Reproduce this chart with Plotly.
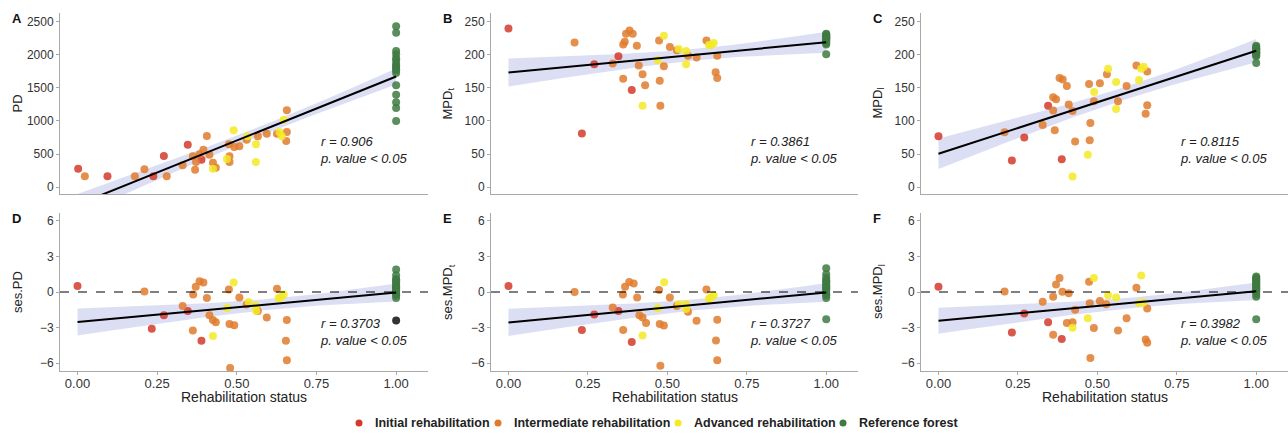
import numpy as np
import plotly.graph_objects as go

W, H = 1288, 433

# ---------------- data ----------------
# Panel A : PD
A_red_x = [0.002, 0.094, 0.238, 0.271, 0.346, 0.389]
A_red_y = [278, 162, 162, 470, 641, 414]
A_org_x = [0.023, 0.18, 0.21, 0.28, 0.33, 0.362, 0.369, 0.372, 0.383, 0.395, 0.406, 0.414, 0.425,
           0.434, 0.475, 0.477, 0.477, 0.492, 0.508, 0.531, 0.566, 0.594, 0.626, 0.657, 0.657, 0.655]
A_org_y = [162, 162, 268, 162, 328, 465, 263, 379, 495, 566, 773, 490, 369,
           293, 646, 465, 379, 606, 616, 717, 768, 808, 808, 1161, 833, 697]
A_yel_x = [0.425, 0.469, 0.49, 0.533, 0.56, 0.56, 0.634, 0.641, 0.647]
A_yel_y = [278, 424, 858, 768, 646, 379, 833, 768, 1020]
A_grn_y = [2434, 2338, 2060, 2010, 1950, 1919, 1869, 1840, 1818, 1790, 1768, 1727, 1540, 1399, 1283, 1197, 1000]

# Panel B : MPDt
B_red_x = [0.0, 0.231, 0.27, 0.346, 0.388]
B_red_y = [240, 81, 186, 198, 147]
B_org_x = [0.208, 0.328, 0.361, 0.361, 0.366, 0.37, 0.381, 0.391, 0.404, 0.41, 0.422, 0.43,
           0.474, 0.476, 0.478, 0.489, 0.508, 0.53, 0.565, 0.592, 0.623, 0.657, 0.652, 0.657]
B_org_y = [219, 187, 164, 216, 220, 232, 237, 232, 214, 184, 171, 154,
           222, 161, 123, 183, 212, 207, 199, 196, 222, 199, 174, 165]
B_yel_x = [0.489, 0.422, 0.47, 0.536, 0.559, 0.559, 0.631, 0.637, 0.646]
B_yel_y = [229, 123, 192, 209, 206, 186, 215, 215, 218]
B_grn_y = [232, 231, 230, 228, 227, 226, 225, 224, 222, 220, 218, 216, 201]

# Panel C : MPDl
C_red_x = [0.0, 0.231, 0.27, 0.345, 0.388]
C_red_y = [77, 40, 75, 123, 42]
C_org_x = [0.208, 0.328, 0.361, 0.361, 0.37, 0.366, 0.381, 0.391, 0.404, 0.41, 0.422, 0.43,
           0.474, 0.476, 0.478, 0.489, 0.508, 0.53, 0.565, 0.592, 0.623, 0.657, 0.652, 0.657]
C_org_y = [83, 94, 136, 116, 133, 86, 165, 163, 153, 125, 115, 69,
           156, 71, 97, 130, 157, 171, 130, 153, 184, 175, 111, 124]
C_yel_x = [0.49, 0.422, 0.47, 0.534, 0.559, 0.559, 0.631, 0.638, 0.646]
C_yel_y = [144, 16, 49, 179, 159, 118, 162, 179, 182]
C_grn_y = [214, 212, 210, 209, 208, 206, 204, 203, 202, 200, 198, 188]

# Panel D : ses.PD
D_red_x = [0.0, 0.233, 0.271, 0.346, 0.389]
D_red_y = [0.5, -3.1, -1.95, -1.6, -4.1]
D_org_x = [0.21, 0.33, 0.362, 0.363, 0.371, 0.383, 0.395, 0.406, 0.414, 0.425, 0.434, 0.479,
           0.475, 0.477, 0.492, 0.508, 0.531, 0.566, 0.594, 0.626, 0.657, 0.654, 0.657]
D_org_y = [0.05, -1.17, -3.25, -0.2, 0.45, 0.9, 0.8, -0.5, -1.95, -2.35, -2.55, -6.4,
           0.2, -2.7, -2.8, -0.47, -1.05, -1.6, -2.15, 0.28, -2.35, -4.1, -5.75]
D_yel_x = [0.49, 0.425, 0.47, 0.537, 0.559, 0.561, 0.631, 0.638, 0.647]
D_yel_y = [0.8, -3.7, -1.35, -0.85, -1.15, -1.6, -0.5, -0.45, -0.2]
D_grn_y = [1.9, 1.4, 1.1, 1.0, 0.9, 0.75, 0.6, 0.5, 0.4, 0.3, 0.2, 0.1, 0.0, -0.2, -0.3, -0.5, -2.4]

# Panel E : ses.MPDt
E_red_x = [0.0, 0.231, 0.27, 0.346, 0.388]
E_red_y = [0.5, -3.2, -1.9, -1.6, -4.2]
E_org_x = [0.208, 0.328, 0.361, 0.36, 0.367, 0.38, 0.394, 0.405, 0.412, 0.422, 0.433, 0.478,
           0.474, 0.476, 0.489, 0.508, 0.53, 0.565, 0.592, 0.623, 0.657, 0.653, 0.657]
E_org_y = [0.0, -1.3, -3.2, -0.2, 0.45, 0.85, 0.72, -0.47, -1.95, -2.15, -2.6, -6.2,
           0.17, -2.7, -2.83, -0.47, -1.17, -1.67, -2.42, 0.22, -2.33, -4.08, -5.75]
E_yel_x = [0.49, 0.422, 0.47, 0.536, 0.559, 0.559, 0.631, 0.637, 0.646]
E_yel_y = [0.83, -3.67, -1.36, -1.03, -1.03, -1.44, -0.56, -0.47, -0.28]
E_grn_y = [2.0, 1.5, 1.2, 1.0, 0.9, 0.8, 0.6, 0.5, 0.4, 0.3, 0.2, 0.0, -0.2, -0.3, -0.5, -2.3]

# Panel F : ses.MPDl
F_red_x = [0.0, 0.231, 0.27, 0.345, 0.388]
F_red_y = [0.45, -3.4, -1.8, -2.55, -3.95]
F_org_x = [0.208, 0.328, 0.361, 0.361, 0.37, 0.381, 0.39, 0.41, 0.422, 0.43, 0.404, 0.474,
           0.476, 0.478, 0.489, 0.508, 0.528, 0.565, 0.592, 0.623, 0.657, 0.652, 0.657]
F_org_y = [0.05, -0.83, -3.6, -0.4, 0.64, 1.17, 0.03, -0.1, -2.55, -1.5, -2.6, 0.86,
           -0.94, -5.55, -3.03, -0.75, -1.03, -3.25, -2.2, 0.36, -1.39, -4.0, -4.28]
F_yel_x = [0.489, 0.422, 0.47, 0.534, 0.559, 0.631, 0.638, 0.644]
F_yel_y = [1.17, -3.0, -2.22, -0.28, -0.47, -0.94, 1.39, -0.9]
F_grn_y = [1.3, 1.2, 1.1, 1.0, 0.9, 0.8, 0.7, 0.6, 0.5, 0.4, 0.3, 0.2, 0.1, 0.0, -0.2, -0.4, -2.3]

panel_letters = ["A", "B", "C", "D", "E", "F"]
y_titles = ["PD", "MPD<sub>t</sub>", "MPD<sub>l</sub>", "ses.PD", "ses.MPD<sub>t</sub>", "ses.MPD<sub>l</sub>"]
x_title = "Rehabilitation status"
r_values = ["0.906", "0.3861", "0.8115", "0.3703", "0.3727", "0.3982"]
x_ticks = [0, 0.25, 0.5, 0.75, 1.0]
x_tick_labels = ["0.00", "0.25", "0.50", "0.75", "1.00"]
groups = ["Initial rehabilitation", "Intermediate rehabilitation", "Advanced rehabilitation", "Reference forest"]
colors = ["#D33A2C", "#E07B2E", "#F3EA23", "#3E7A42"]

panels = [
    (A_red_x, A_red_y, A_org_x, A_org_y, A_yel_x, A_yel_y, A_grn_y),
    (B_red_x, B_red_y, B_org_x, B_org_y, B_yel_x, B_yel_y, B_grn_y),
    (C_red_x, C_red_y, C_org_x, C_org_y, C_yel_x, C_yel_y, C_grn_y),
    (D_red_x, D_red_y, D_org_x, D_org_y, D_yel_x, D_yel_y, D_grn_y),
    (E_red_x, E_red_y, E_org_x, E_org_y, E_yel_x, E_yel_y, E_grn_y),
    (F_red_x, F_red_y, F_org_x, F_org_y, F_yel_x, F_yel_y, F_grn_y),
]

# ---------------- layout geometry (px) ----------------
cols_px = [(60, 428), (491, 858), (921, 1288)]
rows_px = [(13, 194), (213, 371)]
yranges = [[-106, 2636], [-10.6, 263.6], [-10.6, 263.6], [-6.65, 6.65], [-6.65, 6.65], [-6.65, 6.65]]
ytickvals = [[0, 500, 1000, 1500, 2000, 2500], [0, 50, 100, 150, 200, 250], [0, 50, 100, 150, 200, 250],
             [-6, -3, 0, 3, 6], [-6, -3, 0, 3, 6], [-6, -3, 0, 3, 6]]
xrange_ = [-0.055, 1.10]

FONT = "Liberation Sans, Arial, sans-serif"
fig = go.Figure()
layout = dict(width=W, height=H, margin=dict(l=0, r=0, t=0, b=0),
              plot_bgcolor="white", paper_bgcolor="white", showlegend=False,
              font=dict(family=FONT, color="#222"))
annotations = []
shapes = []

for i, (rx, ry, ox, oy, yx, yy, gy) in enumerate(panels):
    row, col = divmod(i, 3)
    ax = "" if i == 0 else str(i + 1)
    xa, ya = "x" + ax, "y" + ax
    c0, c1 = cols_px[col]
    r0, r1 = rows_px[row]
    xdom = [c0 / W, c1 / W]
    ydom = [1 - r1 / H, 1 - r0 / H]

    gx = [1.0] * len(gy)
    allx = np.array(rx + ox + yx + gx, dtype=float)
    ally = np.array(ry + oy + yy + gy, dtype=float)
    n = len(allx)
    slope, icpt = np.polyfit(allx, ally, 1)
    xs = np.linspace(allx.min(), allx.max(), 80)
    fit = icpt + slope * xs
    resid = ally - (icpt + slope * allx)
    se = np.sqrt(np.sum(resid ** 2) / (n - 2))
    xbar = allx.mean()
    sxx = np.sum((allx - xbar) ** 2)
    band = 2.01 * se * np.sqrt(1 / n + (xs - xbar) ** 2 / sxx)

    fig.add_trace(go.Scatter(x=np.concatenate([xs, xs[::-1]]),
                             y=np.concatenate([fit + band, (fit - band)[::-1]]),
                             fill="toself", fillcolor="rgba(140,150,215,0.30)",
                             line=dict(width=0), mode="lines", hoverinfo="skip",
                             xaxis=xa, yaxis=ya))

    gcolors = [colors[3]] * len(gy)
    if i == 3:
        gcolors[-1] = "#111111"
    for (px_, py_, col_) in [(rx, ry, colors[0]), (ox, oy, colors[1]), (yx, yy, colors[2]), (gx, gy, gcolors)]:
        fig.add_trace(go.Scatter(x=px_, y=py_, mode="markers",
                                 marker=dict(size=8, color=col_, opacity=0.85, line=dict(width=0)),
                                 xaxis=xa, yaxis=ya))

    fig.add_trace(go.Scatter(x=xs, y=fit, mode="lines", line=dict(color="black", width=2),
                             xaxis=xa, yaxis=ya))

    bottom = row == 1
    layout["xaxis" + ax] = dict(domain=xdom, anchor=ya, range=xrange_, showgrid=False, zeroline=False,
                                showline=True, linecolor="#a8a8a8", linewidth=1,
                                tickvals=x_ticks, ticktext=x_tick_labels, showticklabels=bottom,
                                ticks="outside" if bottom else "", ticklen=3, tickcolor="#a8a8a8",
                                ticklabelstandoff=-3,
                                tickfont=dict(size=13, color="#333"))
    layout["yaxis" + ax] = dict(domain=ydom, anchor=xa, range=yranges[i], showgrid=False, zeroline=False,
                                showline=True, linecolor="#a8a8a8", linewidth=1,
                                tickvals=ytickvals[i], ticks="outside", ticklen=3, tickcolor="#a8a8a8",
                                tickfont=dict(size=12, color="#333"))
    # y-axis title
    annotations.append(dict(xref="paper", yref=ya + " domain", x=(c0 - 43) / W, y=0.5,
                            xanchor="center", yanchor="middle", textangle=-90, text=y_titles[i],
                            showarrow=False, font=dict(size=13, color="#222")))
    if bottom:
        annotations.append(dict(xref=xa + " domain", yref="paper", x=0.5, y=1 - 397 / H,
                                xanchor="center", yanchor="middle", text=x_title,
                                showarrow=False, font=dict(size=14, color="#222")))
        shapes.append(dict(type="line", xref=xa + " domain", yref=ya, x0=0, x1=1, y0=0, y1=0,
                           line=dict(color="black", width=1, dash="dash")))
    # stats text
    annotations.append(dict(xref=xa + " domain", yref=ya + " domain", x=0.70,
                            y=0.243 if not bottom else 0.244, xanchor="left", yanchor="middle",
                            text=f"<i>r = {r_values[i]}</i><br><i>p. value &lt; 0.05</i>",
                            showarrow=False, align="left", font=dict(size=13, color="#222")))
    # panel letter
    annotations.append(dict(xref="paper", yref="paper", x=(c0 - 50) / W, y=1 - (r0 + 5.5) / H,
                            xanchor="left", yanchor="middle", text=f"<b>{panel_letters[i]}</b>",
                            showarrow=False, font=dict(size=13, color="#111")))

# custom legend row
leg_dot_px = [359, 498, 678, 843]
leg_text_px = [373, 512, 692, 857]
leg_y = 1 - 423 / H
for g, c, dx, tx in zip(groups, colors, leg_dot_px, leg_text_px):
    shapes.append(dict(type="circle", xref="paper", yref="paper", xsizemode="pixel", ysizemode="pixel",
                       xanchor=dx / W, yanchor=leg_y, x0=-3.5, x1=3.5, y0=-3.5, y1=3.5,
                       fillcolor=c, line=dict(width=0)))
    annotations.append(dict(xref="paper", yref="paper", x=tx / W, y=leg_y, xanchor="left", yanchor="middle",
                            text=f"<b>{g}</b>", showarrow=False, font=dict(size=12.5, color="#222")))

layout["annotations"] = annotations
layout["shapes"] = shapes
fig.update_layout(**layout)
fig.write_html("out.html", config={"displayModeBar": False},
               post_script="document.body.style.margin='0';document.body.style.overflow='hidden';")
